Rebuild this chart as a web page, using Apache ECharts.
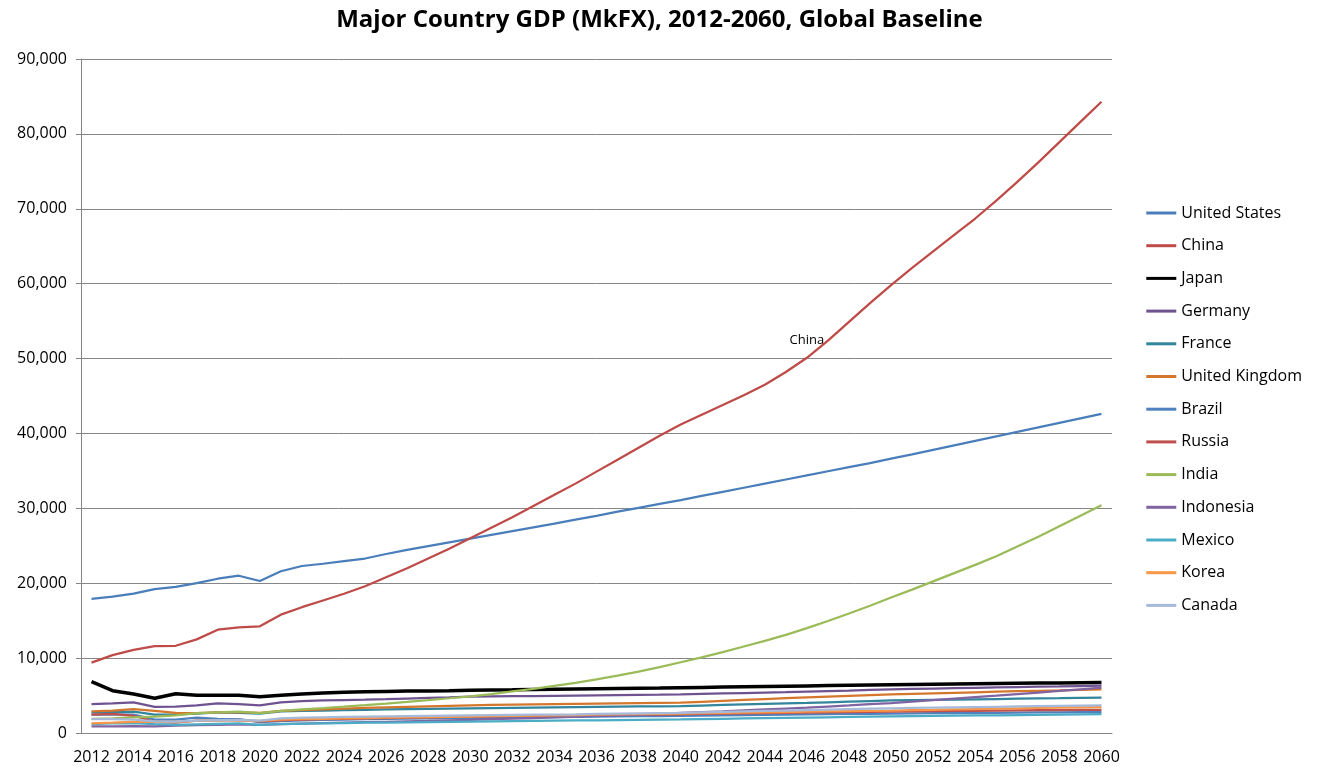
<!DOCTYPE html>
<html>
<head>
<meta charset="utf-8">
<title>Major Country GDP (MkFX), 2012-2060, Global Baseline</title>
<script src="https://cdn.jsdelivr.net/npm/echarts@6/dist/echarts.min.js"></script>
<style>
  html, body { margin: 0; padding: 0; background: #fff; }
  #chart { width: 1319px; height: 770px; }
</style>
</head>
<body>
<div id="chart"></div>
<script>
const years = []
for (let y = 2012; y <= 2060; y++) years.push(String(y))

const yTicks = [0, 10000, 20000, 30000, 40000, 50000, 60000, 70000, 80000, 90000]

const unitedStates = [17900, 18200, 18600, 19200, 19500, 20000, 20600, 21000, 20300,
  21600, 22300, 22600, 22950, 23300, 23900, 24450, 24950, 25450, 25950,
  26450, 26950, 27450, 27950, 28500, 29000, 29550, 30050, 30600, 31100,
  31650, 32200, 32750, 33300, 33850, 34400, 34950, 35500, 36050, 36650,
  37200, 37800, 38400, 39000, 39600, 40200, 40800, 41400, 42000, 42600]
const china = [9400, 10400, 11100, 11600, 11650, 12500, 13800, 14100, 14250,
  15800, 16800, 17700, 18600, 19600, 20800, 22000, 23300, 24600, 26000,
  27400, 28800, 30300, 31800, 33300, 34900, 36500, 38100, 39700, 41200,
  42500, 43800, 45100, 46500, 48200, 50100, 52400, 54900, 57400, 59800,
  62100, 64300, 66500, 68700, 71100, 73600, 76200, 78900, 81600, 84300]
const japan = [6850, 5650, 5200, 4650, 5250, 5050, 5050, 5050, 4850,
  5050, 5200, 5350, 5450, 5500, 5550, 5600, 5620, 5650, 5700,
  5750, 5780, 5820, 5850, 5880, 5910, 5940, 5970, 6000, 6050,
  6090, 6130, 6170, 6210, 6250, 6290, 6330, 6370, 6410, 6450,
  6480, 6510, 6540, 6570, 6600, 6630, 6660, 6690, 6720, 6750]
const germany = [3870, 3950, 4100, 3500, 3520, 3680, 3950, 3850, 3700,
  4100, 4250, 4350, 4400, 4450, 4520, 4600, 4680, 4760, 4850,
  4880, 4910, 4940, 4970, 5000, 5030, 5060, 5090, 5120, 5160,
  5220, 5280, 5340, 5400, 5460, 5530, 5600, 5670, 5750, 5830,
  5880, 5930, 5980, 6030, 6080, 6130, 6180, 6220, 6270, 6310]
const france = [2750, 2800, 2850, 2450, 2500, 2600, 2750, 2700, 2600,
  2900, 2950, 3000, 3050, 3100, 3140, 3180, 3220, 3260, 3300,
  3330, 3360, 3390, 3420, 3450, 3480, 3510, 3540, 3570, 3600,
  3670, 3740, 3810, 3880, 3950, 4020, 4100, 4180, 4260, 4340,
  4380, 4420, 4460, 4500, 4540, 4580, 4620, 4650, 4690, 4720]
const unitedKingdom = [2900, 3000, 3200, 2950, 2700, 2650, 2750, 2800, 2700,
  2950, 3050, 3150, 3250, 3350, 3420, 3490, 3560, 3630, 3700,
  3740, 3780, 3820, 3860, 3900, 3930, 3960, 3990, 4020, 4050,
  4170, 4290, 4410, 4530, 4650, 4760, 4860, 4960, 5060, 5160,
  5230, 5300, 5370, 5440, 5510, 5580, 5640, 5700, 5770, 5830]
const brazil = [2450, 2500, 2450, 1800, 1800, 2050, 1900, 1850, 1450,
  1600, 1700, 1750, 1800, 1850, 1880, 1910, 1940, 1970, 2000,
  2030, 2060, 2090, 2120, 2150, 2180, 2210, 2240, 2270, 2300,
  2330, 2360, 2390, 2420, 2450, 2480, 2510, 2540, 2570, 2600,
  2620, 2640, 2660, 2680, 2700, 2720, 2740, 2760, 2780, 2800]
const russia = [2450, 2550, 2300, 1500, 1400, 1650, 1700, 1750, 1550,
  1700, 1800, 1850, 1900, 1950, 2000, 2050, 2100, 2150, 2200,
  2230, 2260, 2290, 2320, 2350, 2380, 2410, 2440, 2470, 2500,
  2540, 2580, 2620, 2660, 2700, 2730, 2760, 2790, 2820, 2850,
  2880, 2910, 2940, 2970, 3000, 3020, 3040, 3060, 3080, 3100]
const india = [1900, 1950, 2100, 2200, 2350, 2650, 2750, 2850, 2650,
  2950, 3150, 3330, 3520, 3720, 3930, 4150, 4390, 4640, 4900,
  5200, 5550, 5900, 6300, 6700, 7150, 7650, 8200, 8800, 9450,
  10100, 10800, 11550, 12300, 13100, 14000, 14950, 15950, 17000, 18100,
  19150, 20250, 21350, 22450, 23600, 24900, 26200, 27600, 29000, 30400]
const indonesia = [900, 900, 920, 900, 980, 1050, 1080, 1150, 1100,
  1200, 1260, 1320, 1380, 1440, 1500, 1560, 1620, 1690, 1760,
  1840, 1920, 2000, 2090, 2180, 2270, 2370, 2470, 2570, 2680,
  2790, 2900, 3020, 3140, 3260, 3380, 3530, 3680, 3840, 4000,
  4190, 4380, 4580, 4780, 4980, 5190, 5400, 5610, 5830, 6050]
const mexico = [1200, 1270, 1310, 1170, 1080, 1160, 1220, 1270, 1100,
  1200, 1250, 1290, 1330, 1370, 1400, 1430, 1460, 1490, 1520,
  1550, 1580, 1610, 1640, 1670, 1700, 1730, 1760, 1790, 1820,
  1860, 1900, 1940, 1980, 2020, 2060, 2100, 2140, 2180, 2220,
  2250, 2280, 2310, 2340, 2370, 2400, 2430, 2460, 2490, 2520]
const korea = [1300, 1380, 1480, 1470, 1500, 1620, 1720, 1650, 1630,
  1800, 1850, 1900, 1950, 2000, 2040, 2080, 2120, 2160, 2200,
  2240, 2280, 2320, 2360, 2400, 2440, 2480, 2520, 2560, 2600,
  2640, 2680, 2720, 2760, 2800, 2840, 2880, 2920, 2960, 3000,
  3050, 3100, 3150, 3200, 3250, 3300, 3340, 3380, 3420, 3460]
const canada = [1850, 1850, 1800, 1560, 1530, 1650, 1720, 1740, 1650,
  1950, 2050, 2100, 2150, 2200, 2230, 2260, 2290, 2320, 2350,
  2380, 2410, 2440, 2470, 2500, 2540, 2580, 2620, 2660, 2700,
  2760, 2820, 2880, 2940, 3000, 3060, 3120, 3180, 3240, 3300,
  3340, 3380, 3420, 3460, 3500, 3540, 3580, 3620, 3660, 3700]

const countries = [
  ['United States', unitedStates, '#4A7EBB'],
  ['China', china, '#BE4B48'],
  ['Japan', japan, '#000000'],
  ['Germany', germany, '#6F5391'],
  ['France', france, '#31859C'],
  ['United Kingdom', unitedKingdom, '#D4772C'],
  ['Brazil', brazil, '#4F81BD'],
  ['Russia', russia, '#C0504D'],
  ['India', india, '#9BBB59'],
  ['Indonesia', indonesia, '#8064A2'],
  ['Mexico', mexico, '#4BACC6'],
  ['Korea', korea, '#F79646'],
  ['Canada', canada, '#A5B9DA'],
]

// the single data label in the original sits on China's 2046 point
const labelYear = '2046'

const font = 'Open Sans'
const chart = echarts.init(document.getElementById('chart'))

const lineSeries = countries.map(([name, values, color]) => ({
  name, type: 'line', symbol: 'none', color,
  lineStyle: { color, width: name === 'Japan' ? 3.5 : 2.25 },
  data: values,
}))

// invisible point carrying the "China" data label
const labelSeries = {
  name: 'China label', type: 'scatter', symbolSize: 1, silent: true,
  itemStyle: { color: 'transparent' },
  label: {
    show: true, position: 'top', distance: 11, formatter: 'China',
    fontFamily: font, fontSize: 13, color: '#000', opacity: 1,
  },
  data: [[labelYear, china[years.indexOf(labelYear)]]],
}

chart.setOption({
  animation: false,
  backgroundColor: '#fff',
  title: {
    text: 'Major Country GDP (MkFX), 2012-2060, Global Baseline',
    left: 'center', top: 3,
    textStyle: { fontFamily: font, fontSize: 24, fontWeight: 'bold', color: '#000' },
  },
  grid: { left: 81, right: 207, top: 59, bottom: 37 },
  legend: {
    orient: 'vertical', right: 12, top: 200,
    icon: 'rect', itemWidth: 30, itemHeight: 3, itemGap: 16.7,
    textStyle: { fontFamily: font, fontSize: 16, color: '#000' },
    data: countries.map(c => c[0]),
  },
  xAxis: {
    type: 'category', data: years, boundaryGap: true,
    axisLine: { lineStyle: { color: '#868686' } },
    axisTick: { interval: 0, length: 6, lineStyle: { color: '#868686' } },
    axisLabel: { interval: 1, fontFamily: font, fontSize: 16, color: '#000', margin: 16 },
  },
  yAxis: {
    type: 'value', min: yTicks[0], max: yTicks[yTicks.length - 1], interval: 10000,
    axisLine: { show: true, lineStyle: { color: '#868686' } },
    axisTick: { show: true, length: 5, lineStyle: { color: '#868686' } },
    splitLine: { lineStyle: { color: '#868686', width: 1 } },
    axisLabel: {
      fontFamily: font, fontSize: 16, color: '#000', margin: 14,
      formatter: v => v.toLocaleString('en-US'),
    },
  },
  series: [...lineSeries, labelSeries],
})
</script>
</body>
</html>
